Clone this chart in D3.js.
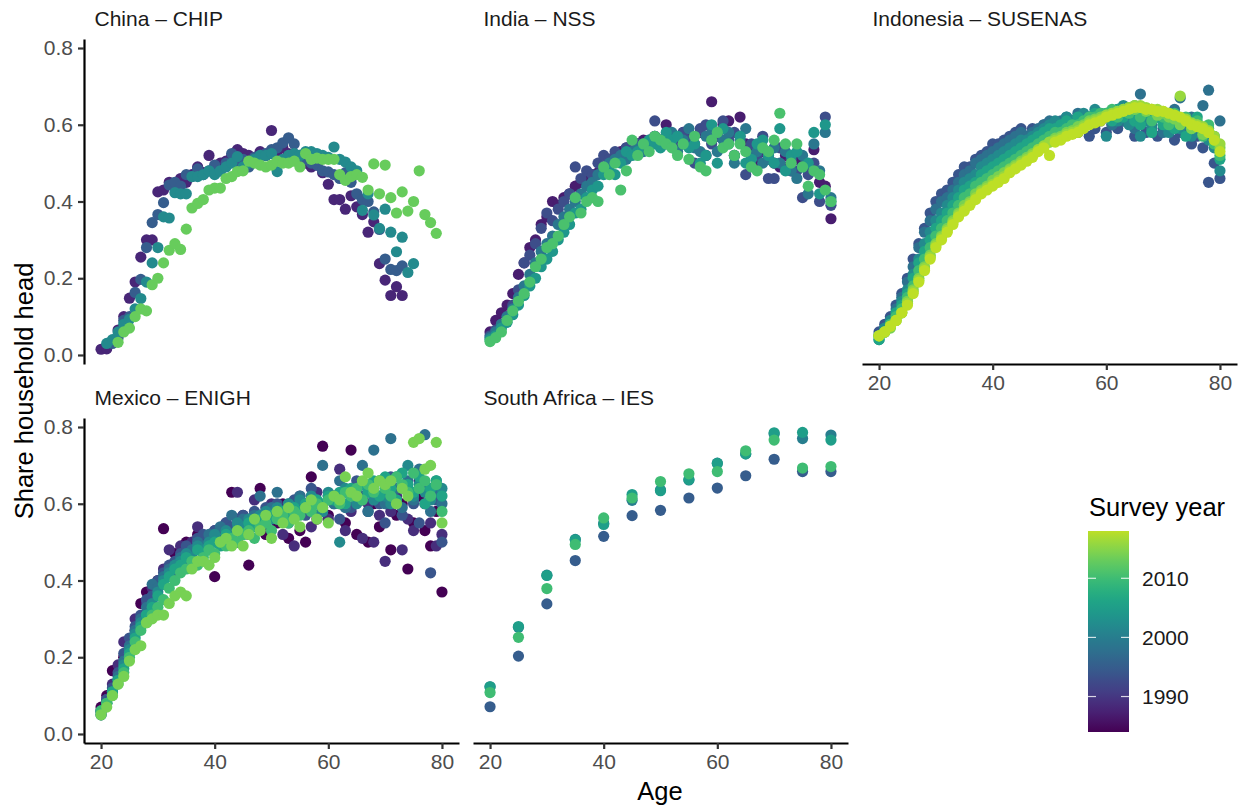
<!DOCTYPE html>
<html>
<head>
<meta charset="utf-8">
<script src="https://cdn.jsdelivr.net/npm/d3@7"></script>
<style>
body { margin: 0; background: #fff; }
svg { display: block; font-family: "Liberation Sans", Arial, sans-serif; }
</style>
</head>
<body>
<svg id="chart" width="1244" height="811"></svg>
<script>

// ---- data: share of household heads by age, one array per survey year ----

var panelTitles = ["China – CHIP", "India – NSS", "Indonesia – SUSENAS", "Mexico – ENIGH", "South Africa – IES"];
var yTicks = [0, 0.2, 0.4, 0.6, 0.8];
var xTicks = [20, 40, 60, 80];
var legendTicks = [1990, 2000, 2010];
var yearRange = [1984, 2018];

// China (series do not all start at 20)
var chinaYears = [1988, 1995, 2002, 2013];
var chinaFirstAge = [20, 22, 21, 23];
var china1988 = [.015,.016,.037,.065,.10,.148,.19,.255,.30,.30,
  .425,.43,.45,.44,.46,.45,.47,.49,.475,.52,
  .49,.50,.505,.52,.535,.525,.52,.51,.53,.52,
  .585,.53,.54,.525,.52,.51,.50,.49,.495,.475,
  .445,.405,.405,.38,.415,.386,.366,.32,.347,.238,
  .195,.155,.178,.155];
var china1995 = [.03,.045,.09,.10,.163,.197,.28,.345,
  .366,.397,.443,.45,.44,.47,.465,.485,.47,.48,
  .495,.48,.50,.525,.50,.51,.49,.515,.52,.525,
  .535,.54,.553,.566,.55,.52,.51,.50,.495,.48,
  .477,.47,.46,.475,.45,.42,.405,.40,.373,.327,
  .25,.223,.22,.232];
var china2002 = [.03,.04,.06,.08,.093,.12,.147,.19,.24,
  .28,.36,.357,.423,.42,.42,.465,.465,.47,.48,
  .47,.48,.49,.50,.517,.49,.50,.51,.52,.52,
  .525,.478,.51,.52,.525,.52,.53,.53,.525,.52,
  .515,.542,.51,.503,.49,.48,.377,.42,.365,.33,
  .38,.32,.269,.307,.215,.238];
var china2013 = [.033,.06,.07,.10,.12,.115,.183,
  .20,.24,.273,.29,.275,.328,.383,.395,.405,.43,
  .435,.435,.46,.465,.478,.48,.505,.50,.495,.49,
  .495,.505,.50,.50,.505,.49,.525,.51,.513,.51,
  .51,.51,.47,.455,.465,.47,.463,.43,.498,.42,
  .495,.41,.37,.425,.375,.40,.48,.366,.345,.317];

// India, ages 20-80
var indiaYears = [1987, 1993, 1999, 2004, 2011];
var india1987 = [.06,.09,.11,.13,.16,.21,.24,.28,.30,.34,
  .36,.40,.39,.41,.42,.44,.45,.46,.47,.475,
  .49,.51,.52,.53,.54,.53,.55,.56,.55,.57,
  .56,.60,.57,.56,.58,.57,.55,.58,.52,.66,
  .57,.60,.61,.52,.62,.55,.54,.50,.53,.52,
  .50,.49,.52,.48,.51,.50,.49,.535,.45,.44,
  .355];
var india1993 = [.05,.065,.08,.10,.13,.17,.24,.26,.29,.33,
  .37,.35,.38,.40,.42,.49,.46,.48,.47,.50,
  .52,.51,.53,.52,.54,.53,.55,.54,.56,.61,
  .55,.57,.55,.54,.58,.56,.50,.59,.60,.55,
  .57,.61,.56,.58,.57,.47,.55,.52,.57,.46,
  .46,.54,.49,.51,.48,.41,.47,.50,.40,.62,
  .39];
var india1999 = [.045,.06,.08,.10,.12,.15,.18,.21,.24,.27,
  .29,.31,.34,.36,.38,.40,.42,.44,.45,.47,
  .48,.50,.51,.52,.51,.53,.54,.53,.55,.57,
  .56,.55,.58,.53,.56,.59,.54,.53,.57,.58,
  .53,.56,.58,.50,.56,.59,.52,.53,.50,.51,
  .54,.50,.53,.48,.46,.52,.42,.55,.48,.58,
  .41];
var india2004 = [.04,.05,.07,.085,.105,.13,.155,.18,.20,.23,
  .25,.27,.30,.32,.34,.37,.38,.41,.43,.44,
  .47,.48,.47,.50,.53,.52,.53,.55,.56,.55,
  .54,.58,.56,.57,.55,.54,.55,.50,.52,.60,
  .50,.59,.55,.52,.57,.50,.51,.55,.56,.52,
  .50,.59,.48,.52,.53,.49,.50,.58,.42,.60,
  .40];
var india2011 = [.035,.045,.06,.09,.115,.14,.16,.19,.23,.25,
  .28,.29,.31,.34,.36,.41,.37,.40,.41,.40,
  .49,.47,.50,.43,.48,.56,.52,.55,.53,.57,
  .56,.55,.54,.52,.55,.51,.57,.49,.48,.56,
  .58,.54,.55,.52,.55,.53,.49,.48,.54,.53,
  .56,.63,.55,.50,.55,.49,.44,.48,.47,.43,
  .40];

// Indonesia, ages 20-80
var indoYears = [1994, 1998, 2002, 2006, 2010, 2014, 2016, 2018];
var indo1994 = [.06,.08,.10,.13,.16,.20,.25,.29,.33,.37,
  .40,.42,.43,.45,.47,.49,.49,.51,.52,.53,
  .55,.55,.56,.57,.58,.59,.57,.59,.58,.60,
  .59,.58,.60,.59,.61,.58,.60,.57,.59,.61,
  .58,.60,.59,.61,.62,.57,.60,.58,.61,.57,
  .59,.60,.56,.58,.59,.55,.57,.54,.45,.50,
  .46];
var indo1998 = [.05,.07,.09,.12,.15,.19,.23,.28,.32,.35,
  .38,.40,.41,.43,.45,.47,.48,.50,.51,.52,
  .53,.54,.55,.56,.57,.58,.57,.58,.59,.60,
  .61,.60,.61,.62,.61,.63,.60,.62,.61,.63,
  .62,.60,.64,.61,.63,.59,.68,.62,.60,.63,
  .58,.61,.64,.67,.60,.62,.58,.65,.69,.55,
  .61];
var indo2002 = [.04,.07,.09,.11,.14,.17,.21,.25,.29,.32,
  .35,.37,.39,.41,.43,.45,.46,.47,.49,.50,
  .51,.52,.53,.54,.55,.56,.56,.57,.58,.59,
  .60,.61,.60,.62,.61,.62,.63,.61,.64,.62,
  .57,.63,.61,.65,.60,.62,.57,.61,.59,.62,
  .60,.58,.62,.59,.61,.57,.60,.58,.56,.54,
  .48];
var indo2006 = [.04,.06,.08,.11,.13,.16,.20,.24,.27,.30,
  .33,.35,.37,.39,.41,.43,.44,.45,.47,.48,
  .49,.50,.51,.52,.53,.54,.55,.56,.57,.58,
  .59,.59,.60,.61,.60,.62,.61,.62,.63,.62,
  .63,.61,.64,.62,.63,.61,.60,.63,.58,.62,
  .60,.62,.59,.61,.57,.60,.62,.58,.59,.57,
  .51];
var indo2010 = [.05,.06,.08,.10,.12,.15,.18,.22,.25,.28,
  .31,.33,.35,.37,.39,.41,.42,.44,.45,.46,
  .47,.48,.49,.50,.51,.52,.53,.54,.55,.56,
  .57,.58,.58,.59,.60,.60,.61,.62,.62,.63,
  .63,.64,.62,.64,.63,.65,.62,.64,.61,.63,
  .62,.60,.63,.61,.62,.59,.61,.57,.60,.55,
  .52];
var indo2014 = [.05,.06,.07,.09,.11,.14,.17,.20,.23,.26,
  .29,.31,.33,.35,.37,.39,.40,.42,.43,.44,
  .455,.465,.475,.485,.495,.505,.515,.525,.535,.545,
  .555,.565,.57,.58,.585,.595,.60,.61,.615,.62,
  .625,.63,.635,.64,.645,.64,.645,.635,.64,.625,
  .63,.62,.615,.60,.61,.59,.60,.575,.58,.56,
  .54];
var indo2016 = [.05,.06,.075,.09,.11,.135,.165,.195,.225,.255,
  .285,.305,.325,.345,.365,.38,.395,.41,.425,.435,
  .445,.455,.465,.48,.49,.50,.51,.52,.535,.545,
  .555,.56,.565,.575,.58,.585,.595,.605,.61,.615,
  .625,.63,.635,.64,.645,.65,.65,.645,.64,.64,
  .635,.63,.625,.675,.615,.605,.60,.595,.585,.57,
  .55];
var indo2018 = [.05,.06,.075,.09,.11,.13,.16,.19,.22,.25,
  .28,.30,.32,.34,.36,.375,.39,.405,.42,.43,
  .44,.45,.46,.475,.485,.495,.505,.515,.53,.54,
  .52,.555,.56,.57,.575,.58,.59,.60,.605,.61,
  .62,.625,.63,.635,.64,.645,.645,.64,.64,.635,
  .635,.63,.625,.62,.61,.60,.595,.59,.58,.56,
  .53];

// Mexico, ages 20-80
var mexYears = [1984, 1989, 1994, 1998, 2002, 2006, 2010, 2014];
var mex1984 = [.07,.10,.165,.16,.20,.24,.27,.34,.37,.36,
  .40,.535,.42,.47,.44,.50,.47,.52,.49,.50,
  .41,.53,.54,.63,.50,.53,.44,.56,.64,.52,
  .58,.55,.60,.51,.58,.53,.50,.67,.56,.75,
  .57,.62,.60,.55,.74,.52,.61,.50,.60,.54,
  .66,.48,.57,.60,.43,.55,.62,.53,.49,.58,
  .37];
var mex1989 = [.06,.09,.13,.18,.24,.22,.30,.29,.34,.38,
  .36,.43,.48,.42,.49,.47,.50,.54,.51,.49,
  .53,.52,.55,.50,.63,.57,.52,.61,.55,.54,
  .60,.58,.52,.57,.49,.62,.60,.54,.63,.58,
  .56,.62,.69,.53,.58,.64,.51,.60,.50,.57,
  .45,.58,.62,.48,.56,.53,.66,.60,.55,.49,
  .52];
var mex1994 = [.06,.09,.12,.16,.21,.25,.28,.31,.35,.36,
  .40,.42,.44,.45,.47,.49,.48,.51,.52,.50,
  .53,.52,.55,.54,.56,.57,.55,.58,.56,.59,
  .57,.60,.58,.55,.61,.59,.57,.64,.60,.58,
  .62,.60,.56,.63,.59,.66,.62,.58,.64,.60,
  .55,.67,.61,.57,.63,.60,.55,.65,.42,.61,
  .50];
var mex1998 = [.05,.08,.11,.15,.19,.23,.27,.30,.33,.39,
  .38,.41,.43,.44,.46,.45,.48,.50,.49,.52,
  .51,.54,.52,.57,.54,.56,.55,.57,.62,.56,
  .59,.63,.57,.60,.58,.62,.59,.61,.57,.70,
  .62,.60,.66,.59,.63,.61,.70,.58,.74,.62,
  .60,.77,.64,.59,.66,.61,.69,.78,.58,.63,
  .60];
var mex2002 = [.05,.08,.11,.14,.18,.22,.26,.29,.31,.34,
  .37,.40,.42,.44,.45,.47,.46,.49,.48,.50,
  .52,.50,.53,.52,.55,.54,.56,.55,.57,.58,
  .56,.59,.58,.60,.57,.61,.59,.62,.60,.58,
  .63,.61,.50,.64,.62,.60,.65,.63,.61,.66,
  .62,.60,.67,.64,.70,.62,.65,.63,.61,.66,
  .64];
var mex2006 = [.06,.08,.11,.14,.17,.21,.25,.28,.31,.33,
  .36,.39,.41,.43,.44,.46,.45,.48,.47,.49,
  .50,.49,.52,.51,.53,.52,.55,.54,.56,.55,
  .57,.56,.58,.57,.59,.58,.60,.59,.61,.60,
  .62,.61,.63,.60,.64,.62,.65,.63,.66,.62,
  .67,.64,.61,.68,.65,.63,.67,.60,.64,.66,
  .62];
var mex2010 = [.06,.08,.10,.13,.16,.20,.24,.27,.29,.31,
  .33,.35,.38,.40,.42,.43,.45,.44,.46,.48,
  .47,.50,.49,.51,.50,.52,.53,.51,.54,.55,
  .53,.56,.57,.55,.58,.57,.59,.58,.60,.59,
  .61,.62,.60,.63,.62,.64,.61,.65,.63,.66,
  .64,.62,.67,.65,.63,.68,.64,.66,.62,.65,
  .58];
var mex2014 = [.05,.07,.10,.13,.15,.19,.22,.23,.29,.30,
  .31,.31,.34,.36,.37,.36,.43,.45,.45,.44,
  .46,.50,.51,.49,.53,.49,.52,.56,.53,.57,
  .51,.58,.55,.59,.56,.54,.59,.61,.56,.59,
  .55,.62,.61,.67,.63,.62,.66,.68,.64,.66,
  .65,.66,.60,.64,.62,.76,.77,.69,.70,.76,
  .55];

// South Africa, five-year age groups
var saAges = [20, 25, 30, 35, 40, 45, 50, 55, 60, 65, 70, 75, 80];
var saYears = [1995, 2000, 2005, 2010];
var sa1995 = [.071,.203,.339,.452,.515,.569,.583,.615,.641,.673,.716,.684,.684];
var sa2000 = [.123,.278,.414,.507,.549,.609,.636,.662,.706,.730,.782,.770,.779];
var sa2005 = [.123,.280,.413,.506,.546,.624,.634,.663,.705,.730,.785,.786,.766];
var sa2010 = [.108,.252,.379,.494,.563,.615,.658,.678,.684,.738,.766,.693,.697];

// ---- build point tables ----

function yearly(years, firstAges, shares) {
  var out = [];
  years.forEach(function(yr, i) {
    shares[i].forEach(function(v, j) {
      out.push({ year: yr, age: firstAges[i] + j, share: v });
    });
  });
  return out;
}

var pointsChina = yearly(chinaYears, chinaFirstAge, [china1988, china1995, china2002, china2013]);
var pointsIndia = yearly(indiaYears, indiaYears.map(function(){ return 20; }), [india1987, india1993, india1999, india2004, india2011]);
var pointsIndo = yearly(indoYears, indoYears.map(function(){ return 20; }), [indo1994, indo1998, indo2002, indo2006, indo2010, indo2014, indo2016, indo2018]);
var pointsMex = yearly(mexYears, mexYears.map(function(){ return 20; }), [mex1984, mex1989, mex1994, mex1998, mex2002, mex2006, mex2010, mex2014]);
var pointsSA = [];
[sa1995, sa2000, sa2005, sa2010].forEach(function(arr, i) {
  arr.forEach(function(v, j) { pointsSA.push({ year: saYears[i], age: saAges[j], share: v }); });
});

// ---- layout ----

var svg = d3.select("#chart");
var colour = d3.scaleSequential(function(t){ return d3.interpolateViridis(0.9 * t); }).domain(yearRange);

var colLeft = [84, 473, 862], rowTop = [39, 418];
var pw = 375, ph = 325;

var panels = [
  { title: panelTitles[0], col: 0, row: 0, pts: pointsChina, yAxis: true,  xAxis: false },
  { title: panelTitles[1], col: 1, row: 0, pts: pointsIndia, yAxis: false, xAxis: false },
  { title: panelTitles[2], col: 2, row: 0, pts: pointsIndo,  yAxis: false, xAxis: true },
  { title: panelTitles[3], col: 0, row: 1, pts: pointsMex,   yAxis: true,  xAxis: true },
  { title: panelTitles[4], col: 1, row: 1, pts: pointsSA,    yAxis: false, xAxis: true }
];

panels.forEach(function(p) {
  var left = colLeft[p.col], top = rowTop[p.row];
  var x = d3.scaleLinear().domain([17, 83]).range([left, left + pw]);
  var y = d3.scaleLinear().domain([-0.0235, 0.8235]).range([top + ph, top]);

  var g = svg.append("g");

  g.append("text")
    .attr("x", left + 10.5)
    .attr("y", top - 13)
    .attr("font-size", "21px")
    .attr("fill", "#1a1a1a")
    .text(p.title);

  g.append("g").selectAll("circle")
    .data(p.pts)
    .enter().append("circle")
    .attr("cx", function(d){ return x(d.age); })
    .attr("cy", function(d){ return y(d.share); })
    .attr("r", 5.6)
    .attr("fill", function(d){ return colour(d.year); });

  if (p.yAxis) {
    var ya = g.append("g").attr("transform", "translate(" + left + ",0)")
      .call(d3.axisLeft(y).tickValues(yTicks).tickFormat(d3.format(".1f"))
        .tickSize(6).tickSizeOuter(0).tickPadding(5));
    styleAxis(ya);
  }
  if (p.xAxis) {
    var xa = g.append("g").attr("transform", "translate(0," + (top + ph) + ")")
      .call(d3.axisBottom(x).tickValues(xTicks).tickFormat(d3.format("d"))
        .tickSize(6).tickSizeOuter(0).tickPadding(5));
    styleAxis(xa);
  }
});

function styleAxis(a) {
  a.select(".domain").attr("stroke", "#000").attr("stroke-width", 2.2);
  a.selectAll(".tick line").attr("stroke", "#333").attr("stroke-width", 2.2);
  a.selectAll(".tick text").attr("fill", "#4d4d4d").attr("font-size", "21px")
    .attr("font-family", "Liberation Sans, Arial, sans-serif");
}

// axis titles
svg.append("text")
  .attr("transform", "translate(33,391) rotate(-90)")
  .attr("text-anchor", "middle")
  .attr("font-size", "25.5px")
  .attr("fill", "#000")
  .text("Share household head");

svg.append("text")
  .attr("x", 660).attr("y", 800)
  .attr("text-anchor", "middle")
  .attr("font-size", "25.5px")
  .attr("fill", "#000")
  .text("Age");

// ---- colour bar legend ----

var barX = 1088, barW = 41, barTop = 531, barBottom = 732;
var ly = d3.scaleLinear().domain(yearRange).range([barBottom, barTop]);

var grad = svg.append("defs").append("linearGradient")
  .attr("id", "viri").attr("x1", 0).attr("y1", 1).attr("x2", 0).attr("y2", 0);
grad.selectAll("stop")
  .data(d3.range(0, 1.0001, 0.05))
  .enter().append("stop")
  .attr("offset", function(d){ return d; })
  .attr("stop-color", function(d){ return d3.interpolateViridis(0.9 * d); });

svg.append("text")
  .attr("x", 1089).attr("y", 516)
  .attr("font-size", "25.5px")
  .attr("fill", "#000")
  .text("Survey year");

svg.append("rect")
  .attr("x", barX).attr("y", barTop)
  .attr("width", barW).attr("height", barBottom - barTop)
  .attr("fill", "url(#viri)");

var lt = svg.append("g").selectAll("g").data(legendTicks).enter().append("g");
lt.append("line")
  .attr("x1", barX).attr("x2", barX + 8)
  .attr("y1", function(d){ return ly(d); }).attr("y2", function(d){ return ly(d); })
  .attr("stroke", "#fff").attr("stroke-opacity", 0.8).attr("stroke-width", 1.2);
lt.append("line")
  .attr("x1", barX + barW - 8).attr("x2", barX + barW)
  .attr("y1", function(d){ return ly(d); }).attr("y2", function(d){ return ly(d); })
  .attr("stroke", "#fff").attr("stroke-opacity", 0.8).attr("stroke-width", 1.2);
lt.append("text")
  .attr("x", 1142)
  .attr("y", function(d){ return ly(d); })
  .attr("dy", "0.35em")
  .attr("font-size", "21px")
  .attr("fill", "#1a1a1a")
  .text(function(d){ return d; });

</script>
</body>
</html>
